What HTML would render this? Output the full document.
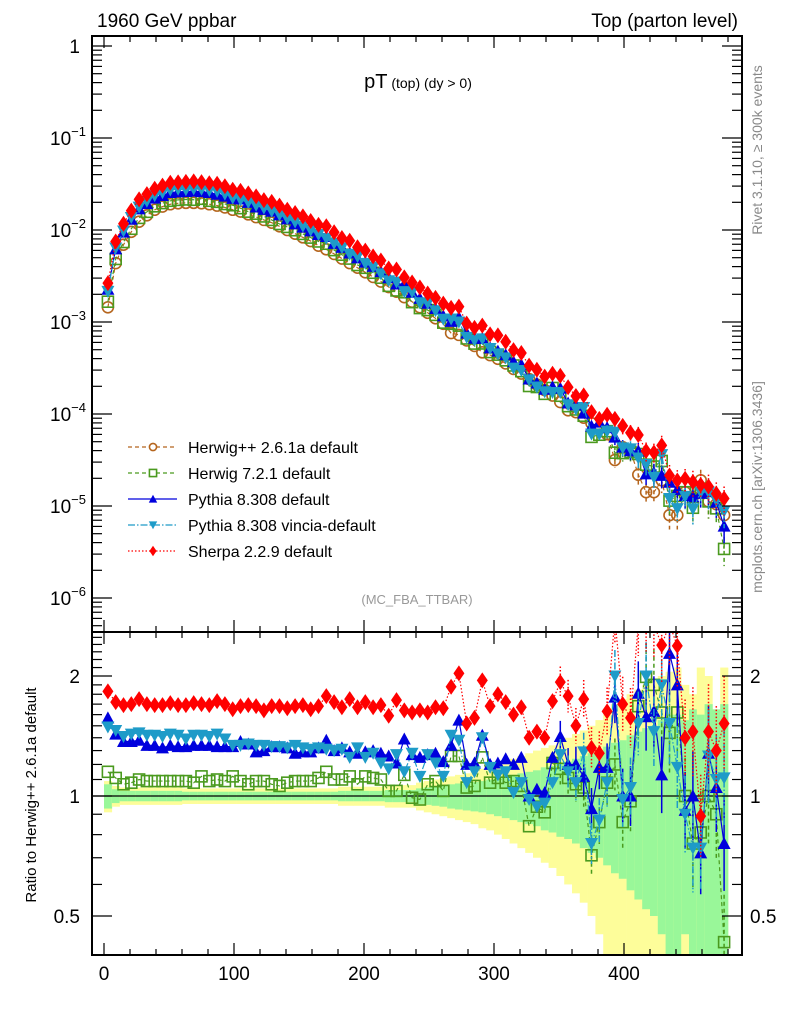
<!DOCTYPE html>
<html><head><meta charset="utf-8">
<style>
html,body{margin:0;padding:0;background:#fff;width:786px;height:1024px;overflow:hidden;}
svg{display:block;font-family:"Liberation Sans",sans-serif;}
</style></head>
<body>
<svg id="chart" width="786" height="1024" viewBox="0 0 786 1024" xmlns="http://www.w3.org/2000/svg">
<defs>
<clipPath id="clipMain"><rect x="92" y="36" width="650" height="596"/></clipPath>
<clipPath id="clipRatio"><rect x="92" y="632" width="650" height="323"/></clipPath>
</defs>
<text x="97" y="27" font-size="19">1960 GeV ppbar</text>
<text x="738" y="27" font-size="19" text-anchor="end">Top (parton level)</text>
<text x="418" y="88" text-anchor="middle"><tspan font-size="20">pT</tspan><tspan font-size="14"> (top) (dy &gt; 0)</tspan></text>
<text x="417" y="604" text-anchor="middle" font-size="13" fill="#999">(MC_FBA_TTBAR)</text>
<text transform="translate(762,150) rotate(-90)" text-anchor="middle" font-size="14" fill="#888">Rivet 3.1.10, ≥ 300k events</text>
<text transform="translate(762,487) rotate(-90)" text-anchor="middle" font-size="14" fill="#888">mcplots.cern.ch [arXiv:1306.3436]</text>
<text transform="translate(36,795) rotate(-90)" text-anchor="middle" font-size="15">Ratio to Herwig++ 2.6.1a default</text>
<g id="bands" clip-path="url(#clipRatio)"></g>
<g id="ratioMarks" clip-path="url(#clipRatio)"></g>
<g id="mainMarks" clip-path="url(#clipMain)"></g>
<g id="axes"></g>
<g id="legend"></g>
</svg>
<script>
const NS="http://www.w3.org/2000/svg";
const binCenters=[];for(let i=0;i<80;i++)binCenters.push(3+6*i);
const binWidth=6;
const herwigLog=[-2.84,-2.36,-2.16,-2.02,-1.91,-1.84,-1.78,-1.745,-1.72,-1.71,-1.705,-1.705,-1.71,-1.72,-1.735,-1.755,-1.78,-1.80,-1.83,-1.86,-1.89,-1.92,-1.96,-2.00,-2.04,-2.08,-2.12,-2.17,-2.21,-2.26,-2.31,-2.36,-2.41,-2.46,-2.51,-2.56,-2.62,-2.67,-2.73,-2.78,-2.84,-2.90,-2.96,-3.02,-3.12,-3.14,-3.20,-3.26,-3.33,-3.36,-3.40,-3.45,-3.51,-3.56,-3.62,-3.68,-3.74,-3.80,-3.87,-3.96,-3.98,-4.04,-4.10,-4.16,-4.22,-4.50,-4.36,-4.40,-4.66,-4.85,-4.85,-4.72,-5.10,-5.10,-4.85,-4.90,-4.72,-4.95,-4.98,-5.10];
const ratioSherpa=[1.83,1.72,1.69,1.70,1.75,1.70,1.69,1.69,1.71,1.69,1.69,1.71,1.70,1.69,1.73,1.70,1.65,1.68,1.69,1.68,1.64,1.68,1.68,1.66,1.68,1.69,1.65,1.68,1.78,1.72,1.67,1.75,1.67,1.72,1.67,1.69,1.59,1.74,1.64,1.62,1.64,1.62,1.67,1.66,1.88,2.03,1.52,1.57,1.95,1.68,1.80,1.72,1.60,1.67,1.40,1.45,1.40,1.73,1.93,1.78,1.50,1.75,1.32,1.28,1.63,2.8,1.70,1.57,2.7,2.8,2.7,2.39,2.7,2.38,1.40,1.45,0.89,1.45,1.3,1.52];
const ratioPythia=[1.57,1.43,1.37,1.37,1.38,1.34,1.34,1.32,1.34,1.33,1.33,1.34,1.34,1.34,1.33,1.33,1.33,1.37,1.35,1.29,1.30,1.33,1.33,1.32,1.28,1.29,1.29,1.32,1.38,1.30,1.32,1.29,1.28,1.29,1.30,1.28,1.26,1.21,1.39,1.27,1.25,1.27,1.28,1.22,1.34,1.55,1.20,1.21,1.42,1.20,1.21,1.24,1.20,1.25,1.00,1.04,1.02,1.25,1.41,1.20,1.20,1.12,0.93,1.18,1.18,1.77,1.00,1.00,1.81,1.58,1.63,1.13,2.28,1.90,0.92,1.00,0.72,1.28,1.05,0.76];
const ratioVincia=[1.49,1.46,1.41,1.43,1.44,1.42,1.42,1.41,1.43,1.42,1.39,1.42,1.42,1.41,1.43,1.39,1.34,1.34,1.35,1.34,1.34,1.33,1.33,1.32,1.34,1.32,1.31,1.32,1.31,1.30,1.31,1.25,1.32,1.25,1.28,1.21,1.17,1.27,1.15,1.28,1.12,1.27,1.21,1.12,1.42,1.38,1.08,1.15,1.40,1.18,1.13,1.15,1.02,1.08,0.98,0.94,0.96,1.08,1.27,1.15,1.08,1.29,0.76,0.87,1.08,2.00,0.98,1.05,1.52,2.00,1.45,1.90,1.52,1.18,0.90,0.74,0.74,1.26,1.1,1.11];
const ratioHerwig7=[1.15,1.11,1.07,1.08,1.10,1.09,1.09,1.09,1.09,1.09,1.09,1.08,1.12,1.09,1.10,1.09,1.12,1.09,1.07,1.09,1.09,1.07,1.06,1.08,1.09,1.09,1.09,1.11,1.15,1.10,1.10,1.12,1.07,1.12,1.11,1.10,1.03,1.03,1.13,0.99,0.98,1.07,1.09,1.03,1.26,1.26,1.05,1.06,1.25,1.08,1.11,1.08,1.09,1.06,0.84,0.94,0.91,1.21,1.17,1.11,1.07,1.05,0.71,0.86,1.08,1.20,0.86,0.97,1.68,1.99,1.90,1.62,1.44,1.62,1.00,0.76,0.81,1.0,0.9,0.43];
const statErr=[.07,.04,.03,.03,.03,.03,.03,.03,.03,.03,.025,.025,.025,.025,.025,.025,.025,.025,.025,.025,.025,.025,.025,.025,.025,.025,.025,.025,.025,.025,.03,.03,.03,.03,.03,.03,.035,.035,.035,.035,.045,.05,.055,.06,.07,.075,.08,.085,.09,.10,.11,.12,.13,.14,.15,.16,.18,.19,.21,.22,.24,.26,.28,.30,.33,.36,.38,.42,.45,.48,.5,.55,.6,.6,.55,.65,.6,.7,.65,.7];
const totalErr=[.09,.06,.05,.05,.05,.05,.05,.05,.05,.05,.045,.045,.045,.045,.045,.045,.045,.045,.045,.045,.045,.045,.045,.045,.045,.045,.045,.045,.045,.045,.055,.055,.055,.055,.055,.055,.065,.065,.065,.065,.08,.09,.10,.11,.12,.13,.14,.15,.17,.18,.2,.22,.24,.26,.28,.3,.32,.34,.37,.4,.43,.46,.5,.55,.6,.7,.75,.8,.85,.9,.95,1.0,1.05,1.1,.9,.8,1.1,1.0,.3,1.1];
const xTickLabels=["0","100","200","300","400"];
const yMainExps=[0,-1,-2,-3,-4,-5,-6];
const ratioTickLabels=["0.5","1","2"];

const X=g=>104+1.3*g;
const YM=v=>46-92*Math.log10(v);
const YR=r=>796-120*Math.log2(r);
const herwigVals=herwigLog.map(l=>Math.pow(10,l));

function el(tag,attrs,parent){const e=document.createElementNS(NS,tag);for(const k in attrs)e.setAttribute(k,attrs[k]);parent.appendChild(e);return e;}
const bands=document.getElementById('bands');
const main=document.getElementById('mainMarks');
const rat=document.getElementById('ratioMarks');
const axes=document.getElementById('axes');
const leg=document.getElementById('legend');

binCenters.forEach((c,i)=>{
  const x0=X(c-binWidth/2),w=X(c+binWidth/2)-x0;
  const yl=YR(1+totalErr[i]), ylo=(1-totalErr[i])>0.05?YR(1-totalErr[i]):1000;
  const ry=el('rect',{x:x0,y:yl,width:w+0.3,height:ylo-yl,fill:'#fdfd9a'},bands);
  
  
  const gh=YR(1+statErr[i]), gl=(1-statErr[i])>0.05?YR(1-statErr[i]):1000;
  const rg=el('rect',{x:x0,y:gh,width:w+0.3,height:gl-gh,fill:'#99f799'},bands);
  
  
});
const oneLine=el('line',{x1:92,x2:742,y1:YR(1),y2:YR(1),stroke:'#000','stroke-width':1.3},bands);



function marker(g,type,x,y,color,s){
  let m;
  if(type==='circle')m=el('circle',{cx:x,cy:y,r:5.5*s,fill:'none',stroke:color,'stroke-width':1.6},g);
  else if(type==='square')m=el('rect',{x:x-5.5*s,y:y-5.5*s,width:11*s,height:11*s,fill:'none',stroke:color,'stroke-width':1.6},g);
  else if(type==='up')m=el('path',{d:`M${x},${y-6.5*s}L${x+6.5*s},${y+5.5*s}L${x-6.5*s},${y+5.5*s}Z`,fill:color},g);
  else if(type==='down')m=el('path',{d:`M${x},${y+6.5*s}L${x+6.5*s},${y-5.5*s}L${x-6.5*s},${y-5.5*s}Z`,fill:color},g);
  else m=el('path',{d:`M${x},${y-8*s}L${x+5.5*s},${y}L${x},${y+8*s}L${x-5.5*s},${y}Z`,fill:color},g);
  return m;
}
const series=[
 {name:'herwig-pp',label:'Herwig++ 2.6.1a default',ratio:null,color:'#b5651d',type:'circle',dash:'4,3'},
 {name:'herwig7',label:'Herwig 7.2.1 default',ratio:ratioHerwig7,color:'#4a9a1e',type:'square',dash:'4,3'},
 {name:'pythia8',label:'Pythia 8.308 default',ratio:ratioPythia,color:'#0000dd',type:'up',dash:''},
 {name:'pythia8-vincia',label:'Pythia 8.308 vincia-default',ratio:ratioVincia,color:'#1e9bc8',type:'down',dash:'7,2,1.5,2'},
 {name:'sherpa',label:'Sherpa 2.2.9 default',ratio:ratioSherpa,color:'#ff0000',type:'diamond',dash:'1.5,2'}
];
series.forEach(s=>{
  const rs=s.ratio||herwigVals.map(()=>1);
  const vals=herwigVals.map((v,i)=>v*rs[i]);
  const g=el('g',{},main);
  
  
  const pts=vals.map((v,i)=>X(binCenters[i])+','+YM(v)).join(' ');
  el('polyline',{points:pts,fill:'none',stroke:s.color,'stroke-width':1.2,'stroke-dasharray':s.dash},g);
  vals.forEach((v,i)=>{
    if(i>=64){
      const e=statErr[i]*0.5;
      const eb=el('line',{x1:X(binCenters[i]),x2:X(binCenters[i]),y1:YM(v*(1+e)),y2:YM(v*(1-e)),stroke:s.color,'stroke-width':1.5,'stroke-dasharray':s.dash},g);
      
      
    }
    const m=marker(g,s.type,X(binCenters[i]),YM(v),s.color,1);
    
    
  });
  if(!s.ratio)return;
  const gr=el('g',{},rat);
  
  
  el('polyline',{points:s.ratio.map((r,i)=>X(binCenters[i])+','+YR(r)).join(' '),fill:'none',stroke:s.color,'stroke-width':1.2,'stroke-dasharray':s.dash},gr);
  s.ratio.forEach((r,i)=>{
    if(i>=58){
      const e=statErr[i]*0.45;
      const eb=el('line',{x1:X(binCenters[i]),x2:X(binCenters[i]),y1:YR(r*(1+e)),y2:YR(r/(1+e)),stroke:s.color,'stroke-width':1.5,'stroke-dasharray':s.dash},gr);
      
      
    }
    const m=marker(gr,s.type,X(binCenters[i]),YR(r),s.color,1);
    
    
  });
});

const f1=el('rect',{x:92,y:36,width:650,height:596,fill:'none',stroke:'#000','stroke-width':2},axes);


const f2=el('rect',{x:92,y:632,width:650,height:323,fill:'none',stroke:'#000','stroke-width':2},axes);


function ln(x1,y1,x2,y2,name){const l=el('line',{x1,y1,x2,y2,stroke:'#000','stroke-width':1.2},axes);}
for(let g=0;g<=480;g+=20){
  const maj=g%100===0,x=X(g),L=maj?12:6;
  [[36,1],[632,-1],[632,1],[955,-1]].forEach(([y,d])=>ln(x,y,x,y+d*L,'x-tick'));
}
xTickLabels.forEach((t,k)=>{
  const tx=el('text',{x:X(k*100),y:980,'font-size':19,'text-anchor':'middle'},axes);
  
  
  tx.textContent=t;
});
for(let e=0;e>=-7;e--){
  for(let m=1;m<10;m++){
    const y=YM(m*Math.pow(10,e));
    if(y<37||y>631)continue;
    const L=m===1?20:10;
    ln(92,y,92+L,y,'main-y-tick');ln(742,y,742-L,y,'main-y-tick');
  }
}
yMainExps.forEach(e=>{
  const y=YM(Math.pow(10,e))+7;
  const t=el('text',{x:e===0?80:86,y:y,'font-size':19,'text-anchor':'end'},axes);
  
  
  if(e===0){t.textContent='1';}
  else{t.textContent='10';const s=el('tspan',{dy:-9,'font-size':13},t);s.textContent='−'+(-e);}
});
for(let r=0.4;r<=2.65;r+=0.1){
  const rr=Math.round(r*10)/10;const y=YR(rr);
  if(y<633||y>954)continue;
  const maj=(rr===0.5||rr===1||rr===2),L=maj?20:10;
  ln(92,y,92+L,y,'ratio-y-tick');ln(742,y,742-L,y,'ratio-y-tick');
}
ratioTickLabels.forEach(t=>{
  const y=YR(parseFloat(t))+7;
  const a=el('text',{x:80,y:y,'font-size':19,'text-anchor':'end'},axes);
  
  
  a.textContent=t;
  const b=el('text',{x:750,y:y,'font-size':19},axes);
  
  
  b.textContent=t;
});
series.forEach((s,k)=>{
  const y=447+26*k;
  const g=el('g',{},leg);
  
  
  el('line',{x1:128,x2:177,y1:y,y2:y,stroke:s.color,'stroke-width':1.3,'stroke-dasharray':s.dash},g);
  const m=marker(g,s.type,153,y,s.color,0.65);
  if(s.type==='circle'||s.type==='square')m.setAttribute('fill','#fff');
  const t=el('text',{x:188,y:y+6,'font-size':16},g);
  t.textContent=s.label;
});
</script>
</body></html>
